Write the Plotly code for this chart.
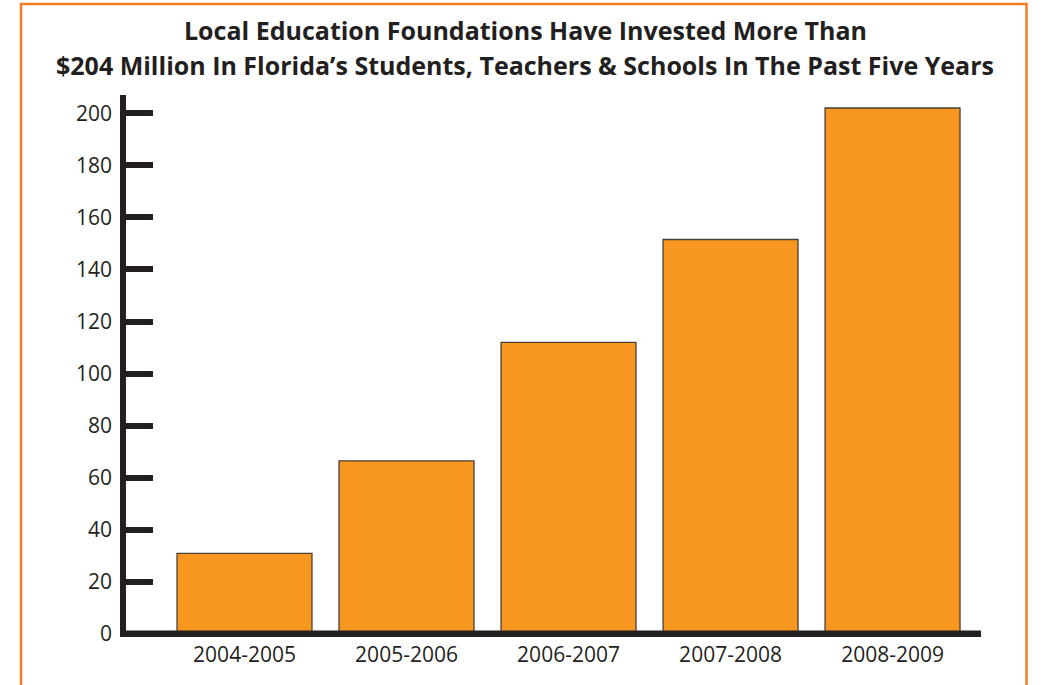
import plotly.graph_objects as go

categories = ["2004-2005", "2005-2006", "2006-2007", "2007-2008", "2008-2009"]
values = [31, 66.5, 112, 151.5, 202]
tick_vals = [0, 20, 40, 60, 80, 100, 120, 140, 160, 180, 200]
title_line1 = "Local Education Foundations Have Invested More Than"
title_line2 = "$204 Million In Florida\u2019s Students, Teachers & Schools In The Past Five Years"

W, H = 1049, 685
L, R, T, B = 123, 68, 95, 48
pw, ph = W - L - R, H - T - B

def px_x(p):
    return (p - L) / pw

def px_y(p):
    return (H - B - p) / ph

TXT = "#231f20"
FONT = "Open Sans"

fig = go.Figure(go.Bar(
    x=categories, y=values,
    marker=dict(color="#f7971f", line=dict(color="#4a4038", width=1.3)),
    width=0.833,
    hoverinfo="skip",
))

fig.update_layout(
    width=W, height=H,
    margin=dict(l=L, r=R, t=T, b=B, autoexpand=False),
    paper_bgcolor="white", plot_bgcolor="white",
    showlegend=False,
    font=dict(family=FONT, color=TXT),
    xaxis=dict(
        type="category", range=[-0.75, 4.546],
        showgrid=False, zeroline=False, showline=False, ticks="",
        tickfont=dict(size=21, color=TXT, family=FONT),
        ticklabelstandoff=3,
    ),
    yaxis=dict(
        range=[-1.15, 207], tickvals=tick_vals,
        showgrid=False, zeroline=False, showline=False,
        ticks="inside", ticklen=30, tickwidth=6, tickcolor=TXT,
        tickfont=dict(size=21, color=TXT, family=FONT),
        ticklabelstandoff=10,
    ),
    shapes=[
        dict(type="line", xref="paper", yref="paper", x0=0, x1=0, y0=0, y1=1,
             line=dict(color=TXT, width=6), layer="above"),
        dict(type="line", xref="paper", yref="y", x0=px_x(120), x1=px_x(981), y0=0, y1=0,
             line=dict(color=TXT, width=7), layer="above"),
        dict(type="rect", xref="paper", yref="paper",
             x0=px_x(21), x1=px_x(1026.5), y0=px_y(720), y1=px_y(4),
             line=dict(color="#f47b20", width=2.5), fillcolor="rgba(0,0,0,0)", layer="below"),
    ],
    annotations=[
        dict(text="<b>" + title_line1 + "</b>", xref="paper", yref="paper",
             x=px_x(525), y=px_y(30), xanchor="center", yanchor="middle",
             showarrow=False, font=dict(size=25, color=TXT, family=FONT)),
        dict(text="<b>" + title_line2.replace("&", "&amp;") + "</b>", xref="paper", yref="paper",
             x=px_x(525), y=px_y(65), xanchor="center", yanchor="middle",
             showarrow=False, font=dict(size=25, color=TXT, family=FONT)),
    ],
)

fig.write_html(
    "out.html",
    config={"displayModeBar": False},
    post_script="document.body.style.margin='0';document.body.style.overflow='hidden';",
)
